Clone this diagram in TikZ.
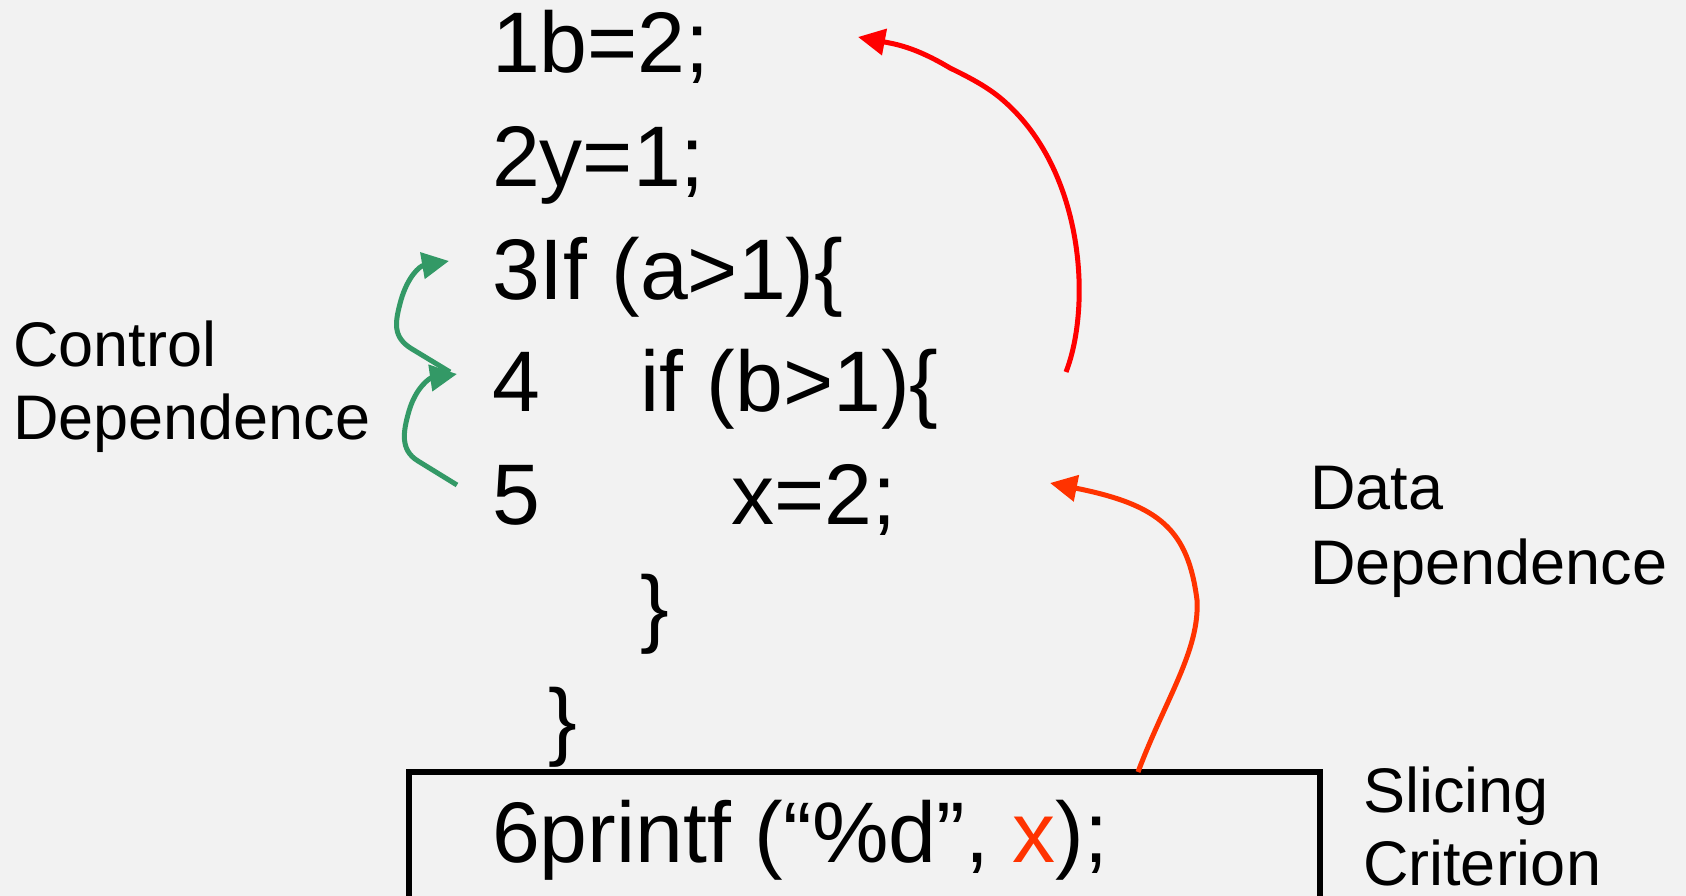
\documentclass[tikz,border=0pt]{standalone}
\usepackage{fontspec}
\setmainfont{Liberation Sans}
\usetikzlibrary{arrows.meta}
\definecolor{bg}{HTML}{F2F2F2}
\definecolor{dred}{HTML}{FF0000}
\definecolor{ored}{HTML}{FF3300}
\definecolor{cgreen}{HTML}{339966}
\tikzset{
  code/.style={anchor=base west, inner sep=0pt, outer sep=0pt, font=\fontsize{86}{100}\selectfont},
  lbl/.style={anchor=base west, inner sep=0pt, outer sep=0pt, font=\fontsize{63}{75}\selectfont},
  dep/.style={line width=5pt, -{Triangle[length=27pt,width=26pt]}},
}
\begin{document}
\begin{tikzpicture}[x=1pt,y=-1pt]
\useasboundingbox (0,0) rectangle (1686,896);
\fill[bg] (0,0) rectangle (1686,896);
% code lines
\node[code] (l1) at (492,73) {1b=2;};
\node[code] (l2) at (492,186) {2y=1;};
\node[code] (l3) at (492,299) {3If (a>1)\{};
\node[code] (n4) at (492,411) {4};
\node[code] (l4) at (640,411) {if (b>1)\{};
\node[code] (n5) at (492,524) {5};
\node[code] (l5) at (731,524) {x=2;};
\node[code] (c6) at (640,636) {\}};
\node[code] (c7) at (548,749) {\}};
\node[code] (l6) at (492,862) {6printf (“\%d”, \textcolor{ored}{x});};
% slicing box
\node[draw, line width=6pt, inner sep=0pt, outer sep=0pt, minimum width=911pt, minimum height=250pt, anchor=north west] (box) at (409,772) {};
% labels
\node[lbl] (ctrlA) at (13,366) {Control};
\node[lbl] (ctrlB) at (13,439) {Dependence};
\node[lbl] (dataA) at (1310,509) {Data};
\node[lbl] (dataB) at (1310,584) {Dependence};
\node[lbl] (sliA) at (1363,812) {Slicing};
\node[lbl] (sliB) at (1363,885) {Criterion};
% connector end points
\coordinate (r1s) at (1066,372);
\coordinate (r1m) at (1020,117);
\coordinate (r1n) at (950,68);
\coordinate (r1t) at (858,37);
\coordinate (r2s) at (1138,772);
\coordinate (r2m) at (1197,600);
\coordinate (r2t) at (1050,483);
\coordinate (g1s) at (450,372);
\coordinate (g1t) at (449,261);
\coordinate (g2s) at (457,485);
\coordinate (g2t) at (457,374);
% data dependence arrows
\draw[dep, dred] (r1s) .. controls (1090,310) and (1085,190) .. (r1m)
   .. controls (1000,95) and (985,85) .. (r1n)
   .. controls (915,47) and (895,44) .. (r1t);
\draw[dep, ored] (r2s) .. controls (1165,700) and (1200,650) .. (r2m)
   .. controls (1188,530) and (1160,505) .. (r2t);
% control dependence arrows
\draw[dep, cgreen] (g1s) -- (412,349) .. controls (392,337) and (395,322) .. (401,300)
   .. controls (408,276) and (420,266) .. (g1t);
\draw[dep, cgreen] (g2s) -- (418,461) .. controls (400,450) and (403,432) .. (409,411)
   .. controls (416,387) and (430,378) .. (g2t);
\end{tikzpicture}
\end{document}
